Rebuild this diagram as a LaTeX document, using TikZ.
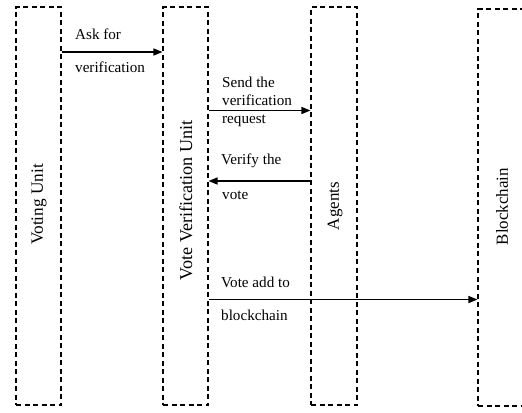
\documentclass[tikz,border=0pt]{standalone}
\usepackage{fontspec}
\setmainfont{Liberation Serif}
\usetikzlibrary{arrows.meta}
\begin{document}
\begin{tikzpicture}[x=1bp,y=-1bp,
  lane/.style={draw, dash pattern=on 5bp off 3.5bp, line width=1.1bp,
    inner sep=0, minimum width=45bp, minimum height=398bp},
  lanelabel/.style={rotate=90, inner sep=0},
  msg/.style={line width=1.4bp, -{Triangle[length=9bp,width=7bp]}},
  msglabel/.style={anchor=west, inner sep=0, font=\fontsize{15.2}{18}\selectfont}]
\useasboundingbox (0,0) rectangle (522,412);

% lifelines
\node[lane] (vu)  at (38.5,206) {};
\node[lane] (vvu) at (185.5,206) {};
\node[lane, minimum width=46bp] (ag) at (334,206) {};
\node[lane, minimum width=46bp, minimum height=397bp] (bc) at (501,207.5) {};

\node[lanelabel, font=\fontsize{17.3}{20}\selectfont] (vuL)  at (39,204.5) {Voting Unit};
\node[lanelabel, font=\fontsize{18.2}{20}\selectfont] (vvuL) at (186,200.5) {Vote Verification Unit};
\node[lanelabel, font=\fontsize{17}{20}\selectfont] (agL)  at (335,206) {Agents};
\node[lanelabel, font=\fontsize{17}{20}\selectfont] (bcL)  at (502,206.5) {Blockchain};

% message heights
\coordinate (m1) at (0,52);
\coordinate (m2) at (0,110.5);
\coordinate (m3) at (0,181);
\coordinate (m4) at (0,299.5);

% messages
\draw[msg] (vu.east |- m1) -- (vvu.west |- m1);
\draw[msg] (vvu.east |- m2) -- (ag.west |- m2);
\draw[msg] (ag.west |- m3) -- (vvu.east |- m3);
\draw[msg] (vvu.east |- m4) -- (bc.west |- m4);

% message labels
\node[msglabel] (t1a) at (75,34) {Ask for};
\node[msglabel] (t1b) at (75,67) {verification};
\node[msglabel] (t2a) at (222,82) {Send the};
\node[msglabel] (t2b) at (222,100) {verification};
\node[msglabel] (t2c) at (222,121) {request};
\node[msglabel] (t3a) at (221,161) {Verify the};
\node[msglabel] (t3b) at (222,195) {vote};
\node[msglabel] (t4a) at (221,282) {Vote add to};
\node[msglabel] (t4b) at (221,315) {blockchain};
\end{tikzpicture}
\end{document}
